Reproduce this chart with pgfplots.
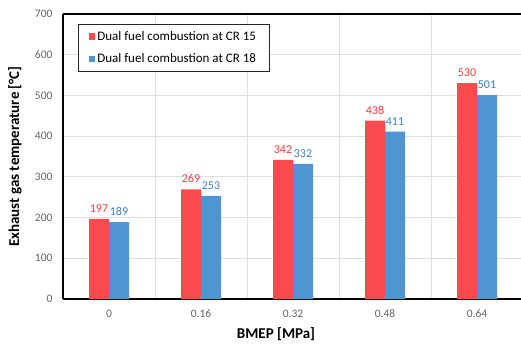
\documentclass[border=0pt]{standalone}
\usepackage{pgfplots}
\pgfplotsset{compat=1.18}
\usepackage{fontspec}
\setmainfont{Carlito}
\definecolor{barred}{RGB}{250,75,80}
\definecolor{barblue}{RGB}{80,148,210}
\definecolor{labred}{RGB}{245,60,65}
\definecolor{labblue}{RGB}{55,130,200}
\definecolor{tickgray}{RGB}{100,100,100}
\begin{document}
\begin{tikzpicture}
\begin{axis}[
  scale only axis, width=460pt, height=285pt,
  /pgf/number format/assume math mode=true,
  ybar=0pt, bar width=20pt,
  xmin=-0.5, xmax=4.5, ymin=0, ymax=700,
  xtick={0,1,2,3,4}, xticklabels={0,0.16,0.32,0.48,0.64},
  minor xtick={0.5,1.5,2.5,3.5},
  ytick={0,100,200,300,400,500,600,700},
  ymajorgrids, xminorgrids,
  grid style={draw=black!13, line width=0.8pt},
  major tick length=0pt, minor tick length=0pt,
  separate axis lines,
  axis line style={line width=1.2pt, black},
  ticklabel style={font=\fontsize{11.5}{13}\selectfont, text=tickgray},
  yticklabel style={xshift=-7pt},
  xticklabel style={yshift=-7pt},
  xlabel={BMEP [MPa]},
  ylabel={Exhaust gas temperature [°C]},
  label style={font=\fontsize{15}{17}\selectfont\bfseries},
  xlabel style={at={(axis description cs:0.5,0)}, anchor=center, yshift=-35pt, xshift=-17pt},
  ylabel style={at={(axis description cs:0,0.5)}, anchor=center, yshift=48pt},
  nodes near coords,
  every node near coord/.append style={font=\fontsize{12}{13}\selectfont, yshift=3pt},
  legend style={at={(0.0326,0.965)}, anchor=north west, draw=black!85, line width=0.6pt,
    font=\fontsize{13}{15}\selectfont, inner xsep=11pt, inner ysep=5pt, row sep=8pt},
  legend cell align=left,
  legend image code/.code={\fill[#1] (0pt,-3pt) rectangle (6pt,3.5pt);},
]
\addplot[fill=barred, draw=none, every node near coord/.append style={text=labred}]
  coordinates {(0,197) (1,269) (2,342) (3,438) (4,530)};
\addlegendentry{Dual fuel combustion at CR 15}
\addplot[fill=barblue, draw=none, every node near coord/.append style={text=labblue}]
  coordinates {(0,189) (1,253) (2,332) (3,411) (4,501)};
\addlegendentry{Dual fuel combustion at CR 18}
\end{axis}
\pgfresetboundingbox
\useasboundingbox (current axis.south west) ++(-63pt,-47pt) rectangle ++(521pt,346pt);
\end{tikzpicture}
\end{document}
